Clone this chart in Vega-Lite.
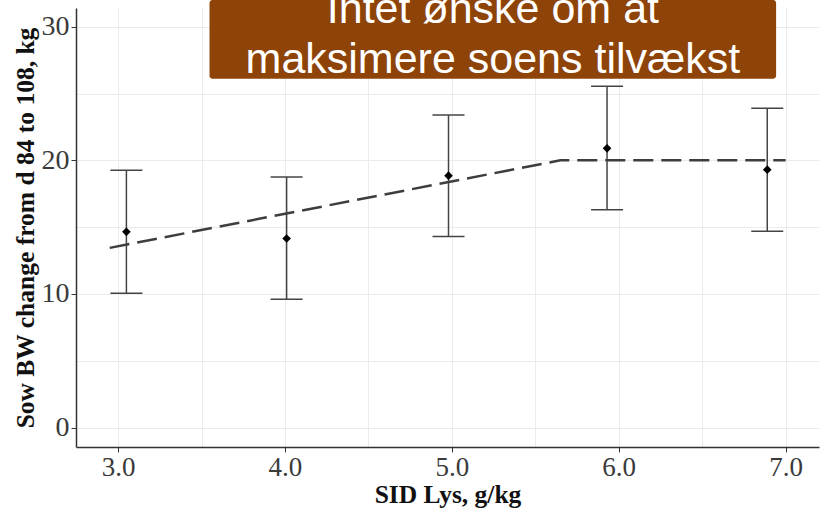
{
  "$schema": "https://vega.github.io/schema/vega-lite/v6.json",
  "width": 743,
  "height": 439,
  "autosize": "none",
  "padding": {"left": 76, "top": 8, "right": 2, "bottom": 66},
  "background": "white",
  "config": {"view": {"stroke": null}},
  "datasets": {
    "points": [
      {"lys": 3.05, "bw": 14.65, "lo": 10.05, "hi": 19.25},
      {"lys": 4.01, "bw": 14.15, "lo": 9.6, "hi": 18.75},
      {"lys": 4.98, "bw": 18.85, "lo": 14.3, "hi": 23.4},
      {"lys": 5.93, "bw": 20.9, "lo": 16.3, "hi": 25.55},
      {"lys": 6.89, "bw": 19.3, "lo": 14.7, "hi": 23.9}
    ],
    "fit": [
      {"lys": 2.95, "bw": 13.45},
      {"lys": 5.65, "bw": 20.0},
      {"lys": 7.0, "bw": 20.0}
    ],
    "box": [
      {"x1": 3.548, "x2": 6.943, "y1": 26.1, "y2": 32.0}
    ],
    "label": [
      {"lys": 5.246, "bw": 30.28, "txt": "Intet ønske om at"},
      {"lys": 5.246, "bw": 26.52, "txt": "maksimere soens tilvækst"}
    ]
  },
  "layer": [
    {
      "data": {"name": "points"},
      "mark": {"type": "rule", "color": "#444444", "strokeWidth": 1.5},
      "encoding": {
        "x": {
          "field": "lys", "type": "quantitative",
          "scale": {"domain": [2.748, 7.2], "nice": false, "zero": false},
          "axis": {
            "title": "SID Lys, g/kg",
            "values": [3, 3.5, 4, 4.5, 5, 5.5, 6, 6.5, 7],
            "labelExpr": "datum.value % 1 === 0 ? format(datum.value, '.1f') : ''",
            "tickOpacity": {"condition": {"test": "datum.value % 1 !== 0", "value": 0}, "value": 1},
            "grid": true, "gridColor": "#ebebeb", "gridWidth": 1,
            "domainColor": "#333333", "domainWidth": 1.5,
            "tickColor": "#333333", "tickSize": 5, "tickWidth": 1,
            "labelFont": "Liberation Serif", "labelFontSize": 27, "labelColor": "#3a3a3a", "labelPadding": 2,
            "titleFont": "Liberation Serif", "titleFontSize": 25.5, "titleFontWeight": "bold", "titleColor": "#111111", "titlePadding": 2
          }
        },
        "y": {
          "field": "lo", "type": "quantitative",
          "scale": {"domain": [-1.453, 31.4], "nice": false, "zero": false},
          "axis": {
            "title": "Sow BW change from d 84 to 108, kg",
            "values": [0, 5, 10, 15, 20, 25, 30],
            "labelExpr": "datum.value % 10 === 0 ? format(datum.value, 'd') : ''",
            "tickOpacity": {"condition": {"test": "datum.value % 10 !== 0", "value": 0}, "value": 1},
            "grid": true, "gridColor": "#ebebeb", "gridWidth": 1,
            "domainColor": "#333333", "domainWidth": 1.5,
            "tickColor": "#333333", "tickSize": 5, "tickWidth": 1,
            "labelFont": "Liberation Serif", "labelFontSize": 28, "labelColor": "#3a3a3a", "labelPadding": 2,
            "titleFont": "Liberation Serif", "titleFontSize": 25.5, "titleFontWeight": "bold", "titleColor": "#111111", "titlePadding": 3
          }
        },
        "y2": {"field": "hi"}
      }
    },
    {
      "data": {"name": "points"},
      "mark": {"type": "tick", "orient": "horizontal", "color": "#444444", "size": 32, "thickness": 1.5, "opacity": 1},
      "encoding": {
        "x": {"field": "lys", "type": "quantitative"},
        "y": {"field": "hi", "type": "quantitative"}
      }
    },
    {
      "data": {"name": "points"},
      "mark": {"type": "tick", "orient": "horizontal", "color": "#444444", "size": 32, "thickness": 1.5, "opacity": 1},
      "encoding": {
        "x": {"field": "lys", "type": "quantitative"},
        "y": {"field": "lo", "type": "quantitative"}
      }
    },
    {
      "data": {"name": "fit"},
      "mark": {"type": "line", "color": "#3d3d3d", "strokeWidth": 2.5, "strokeDash": [20, 8]},
      "encoding": {
        "x": {"field": "lys", "type": "quantitative"},
        "y": {"field": "bw", "type": "quantitative"}
      }
    },
    {
      "data": {"name": "points"},
      "mark": {"type": "point", "shape": "diamond", "filled": true, "color": "#000000", "size": 75, "opacity": 1},
      "encoding": {
        "x": {"field": "lys", "type": "quantitative"},
        "y": {"field": "bw", "type": "quantitative"}
      }
    },
    {
      "data": {"name": "box"},
      "mark": {"type": "rect", "color": "#8E4408", "cornerRadius": 3},
      "encoding": {
        "x": {"field": "x1", "type": "quantitative"},
        "x2": {"field": "x2"},
        "y": {"field": "y1", "type": "quantitative"},
        "y2": {"field": "y2"}
      }
    },
    {
      "data": {"name": "label"},
      "mark": {"type": "text", "font": "Liberation Sans", "fontSize": 43, "color": "#ffffff", "align": "center", "baseline": "alphabetic"},
      "encoding": {
        "x": {"field": "lys", "type": "quantitative"},
        "y": {"field": "bw", "type": "quantitative"},
        "text": {"field": "txt"}
      }
    }
  ]
}
